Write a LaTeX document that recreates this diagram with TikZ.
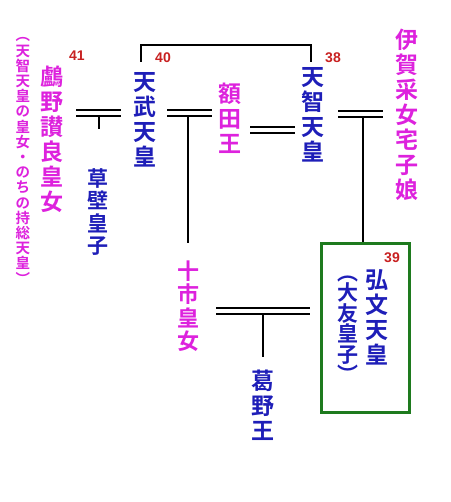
\documentclass[tikz,border=0pt]{standalone}
\usepackage{fontspec}
\newfontfamily\cjk{Noto Sans CJK JP Bold}
\newfontfamily\numf{Liberation Sans}
\definecolor{kblue}{HTML}{1E1EB8}
\definecolor{kmag}{HTML}{DD22DD}
\definecolor{kred}{HTML}{C82020}
\definecolor{kgreen}{HTML}{1E7A1E}
\tikzset{
  vt/.style={align=center, inner sep=0pt, font=\cjk\fontsize{23}{25}\selectfont},
  vtsmall/.style={align=center, inner sep=0pt, font=\cjk\fontsize{14.5}{15.2}\selectfont},
  blu/.style={text=kblue},
  mag/.style={text=kmag},
  num/.style={text=kred, inner sep=0pt, font=\numf\bfseries\fontsize{14}{14}\selectfont},
  ln/.style={line width=1.9pt, black},
  box/.style={draw=kgreen, line width=3pt}
}
\begin{document}
\begin{tikzpicture}[x=1pt,y=-1pt]
\useasboundingbox (0,0) rectangle (450,502);
% names
\node[vt,blu] (tenmu) at (145,120) {天\\武\\天\\皇};
\node[vt,mag] (uno) at (52,139) {鸕\\野\\讃\\良\\皇\\女};
\node[vtsmall,mag] (unonote) at (23,161) {︵\\天\\智\\天\\皇\\の\\皇\\女\\・\\の\\ち\\の\\持\\総\\天\\皇\\︶};
\node[vt,blu,font=\cjk\fontsize{21}{22.5}\selectfont] (kusakabe) at (98,212) {草\\壁\\皇\\子};
\node[vt,mag] (nukata) at (230,118) {額\\田\\王};
\node[vt,mag,font=\cjk\fontsize{22}{23.5}\selectfont] (toichi) at (188,306) {十\\市\\皇\\女};
\node[vt,blu] (tenji) at (313,115) {天\\智\\天\\皇};
\node[vt,mag] (iga) at (407,115) {伊\\賀\\采\\女\\宅\\子\\娘};
\node[vt,blu] (kobun) at (377,317) {弘\\文\\天\\皇};
\node[vt,blu,font=\cjk\fontsize{21}{20.5}\selectfont] (otomo) at (348,329) {︵\\大\\友\\皇\\子\\︶};
\node[vt,blu] (kadono) at (263,405) {葛\\野\\王};
% box
\node[box, minimum width=88pt, minimum height=169pt, inner sep=0pt] (kbox) at (365,327.5) {};
% numbers
\node[num] (n41) at (77,56) {41};
\node[num] (n40) at (163,58) {40};
\node[num] (n38) at (333,58) {38};
\node[num] (n39) at (392,258) {39};
% top bracket
\coordinate (tA) at (141,62);
\coordinate (tB) at (311,62);
\draw[ln] (tA) -- (141,45) -- (311,45) -- (tB);
% marriage 1: uno = tenmu
\draw[ln] (76,110) -- (121,110);
\draw[ln] (76,116) -- (121,116);
\coordinate (c1) at (99,116);
\draw[ln] (c1) -- (99,129);
% marriage 2: tenmu = nukata
\draw[ln] (167,110) -- (212,110);
\draw[ln] (167,116) -- (212,116);
\coordinate (c2) at (188,116);
\draw[ln] (c2) -- (188,243);
% marriage 3: nukata = tenji
\draw[ln] (250,127) -- (295,127);
\draw[ln] (250,133) -- (295,133);
% marriage 4: tenji = iga
\draw[ln] (338,111) -- (383,111);
\draw[ln] (338,117) -- (383,117);
\coordinate (c4) at (363,117);
\draw[ln] (c4) -- (kbox.north -| c4);
% marriage 5: toichi = kobun
\draw[ln] (216,308) -- (310,308);
\draw[ln] (216,314) -- (310,314);
\coordinate (c5) at (263,314);
\draw[ln] (c5) -- (263,357);
\end{tikzpicture}
\end{document}
